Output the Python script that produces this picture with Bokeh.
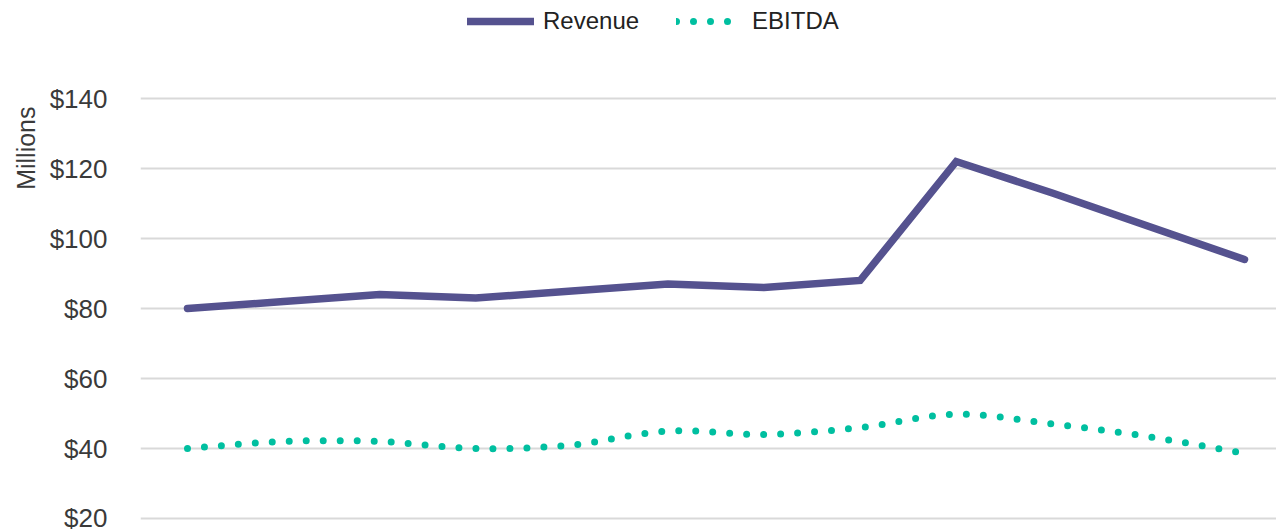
from bokeh.plotting import figure
from bokeh.models import (Range1d, FixedTicker, PrintfTickFormatter, Legend,
                          LegendItem, Title)
from bokeh.embed import file_html
from bokeh.resources import INLINE
import numpy as np

# ---- data ----
periods = list(range(12))
revenue = [80, 82, 84, 83, 85, 87, 86, 88, 122, 113, 103.5, 94]
ebitda = [40, 42, 42, 40, 41, 45, 44, 46, 49.8, 47, 43.4, 38.6]
y_ticks = [20, 40, 60, 80, 100, 120, 140]
y_label = "Millions"

REV_COLOR = "#55528F"
EB_COLOR = "#00BFA0"
FONT = "Liberation Sans"

X0, X1 = -0.489, 11.333
Y0, Y1 = 16, 168.0


def smooth(xs, ys, n=24):
    """Catmull-Rom style smoothing (like spreadsheet 'smoothed line')."""
    pts = np.column_stack([np.asarray(xs, float), np.asarray(ys, float)])
    out = []
    m = len(pts)
    for i in range(m - 1):
        p0 = pts[i - 1] if i > 0 else pts[i]
        p1 = pts[i]
        p2 = pts[i + 1]
        p3 = pts[i + 2] if i + 2 < m else pts[i + 1]
        c1 = p1 + (p2 - p0) / 6.0
        c2 = p2 - (p3 - p1) / 6.0
        ts = np.linspace(0, 1, n, endpoint=(i == m - 2))
        for t in ts:
            b = ((1 - t) ** 3) * p1 + 3 * ((1 - t) ** 2) * t * c1 + 3 * (1 - t) * t * t * c2 + t ** 3 * p2
            out.append(b)
    out = np.array(out)
    return out[:, 0], out[:, 1]


p = figure(width=1276, height=532, output_backend="svg", toolbar_location=None,
           x_range=Range1d(X0, X1), y_range=Range1d(Y0, Y1),
           x_axis_location=None, min_border_left=140, min_border_right=0,
           min_border_top=0, min_border_bottom=0)
p.outline_line_color = None
p.background_fill_color = "white"
p.border_fill_color = "white"
p.xgrid.visible = False
p.ygrid.grid_line_color = "#D9D9D9"
p.ygrid.grid_line_width = 2

ax = p.yaxis[0]
ax.ticker = FixedTicker(ticks=y_ticks)
ax.formatter = PrintfTickFormatter(format="$%d")
ax.axis_line_color = None
ax.major_tick_line_color = None
ax.minor_tick_line_color = None
ax.major_tick_in = 0
ax.major_tick_out = 0
ax.major_label_standoff = 33
ax.major_label_text_font = FONT
ax.major_label_text_font_size = "26px"
ax.major_label_text_color = "#3a3a3a"

sx, sy = smooth(periods, ebitda)
eb = p.line(sx, sy, line_color=EB_COLOR, line_width=7, line_dash="0 17",
            line_cap="round")
rev = p.line(periods, revenue, line_color=REV_COLOR, line_width=7.5,
             line_cap="round", line_join="miter")

legend = Legend(items=[LegendItem(label="Revenue", renderers=[rev]),
                       LegendItem(label="EBITDA", renderers=[eb])],
                location=(327, 497), orientation="horizontal",
                glyph_width=67, glyph_height=28, label_standoff=9, spacing=37,
                padding=0, margin=0, border_line_color=None,
                background_fill_alpha=0, label_text_font=FONT,
                label_text_font_size="24px", label_text_color="#222222")
p.add_layout(legend)

p.add_layout(Title(text=y_label, align="right", offset=106, standoff=14,
                   text_font=FONT, text_font_size="25px",
                   text_font_style="normal", text_color="#3a3a3a"), "left")

open("out.html", "w").write(file_html(p, INLINE))
